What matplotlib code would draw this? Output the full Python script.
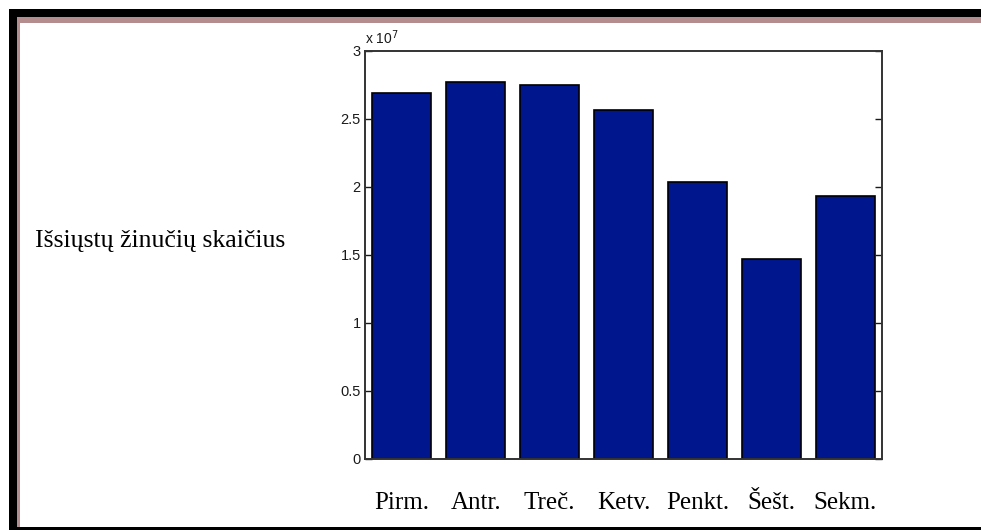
import matplotlib.pyplot as plt
from matplotlib.patches import Rectangle
from matplotlib.ticker import FuncFormatter, MultipleLocator

days = ['Pirm.', 'Antr.', 'Treč.', 'Ketv.', 'Penkt.', 'Šešt.', 'Sekm.']
messages = [26.9e6, 27.74e6, 27.48e6, 25.68e6, 20.39e6, 14.74e6, 19.36e6]
y_label = 'Išsiųstų žinučių skaičius'

W, H = 981, 530
fig = plt.figure(figsize=(W / 100, H / 100), dpi=100)
fig.patch.set_facecolor('white')


def frame_rect(x0, y0, x1, y1, color):
    # pixel box measured from the top-left corner
    fig.patches.append(Rectangle((x0 / W, 1 - y1 / H), (x1 - x0) / W, (y1 - y0) / H,
                                 transform=fig.transFigure, facecolor=color,
                                 edgecolor='none', zorder=0))


# black page frame with a thin rose inner line
frame_rect(9, 9, W, 17, 'black')
frame_rect(9, 9, 17, H, 'black')
frame_rect(9, 527, W, H, 'black')
frame_rect(17, 17, W, 23, '#b48e8e')
frame_rect(17, 17, 20, 527, '#b48e8e')

ax = fig.add_axes([365 / W, 1 - 459 / H, 517 / W, 408 / H])
x = range(1, len(days) + 1)
ax.bar(x, messages, width=0.8, color='#00168c', edgecolor='black', linewidth=1.2)

ax.set_xlim(0.5, len(days) + 0.5)
ax.set_ylim(0, 3e7)
ax.yaxis.set_major_locator(MultipleLocator(0.5e7))
ax.yaxis.set_major_formatter(FuncFormatter(lambda v, p: f'{v / 1e7:g}'))
ax.set_xticks(list(x))
ax.set_xticklabels(days, family='Liberation Serif', fontsize=18)
ax.tick_params(axis='x', length=0, pad=24)
ax.tick_params(axis='y', direction='in', length=5, width=1, right=True,
               labelsize=10.5, pad=3, colors='#1a1a1a')
for lbl in ax.get_yticklabels():
    lbl.set_family('Liberation Sans')
for s in ax.spines.values():
    s.set_linewidth(1.4)
    s.set_color('#333333')

ax.text(0, 1.01, r'x 10$^{7}$', transform=ax.transAxes, fontsize=10,
        family='Liberation Sans', va='bottom', ha='left', color='#1a1a1a')

fig.text(35 / W, 1 - 241 / H, y_label, family='Liberation Serif', fontsize=18.5,
         va='center', ha='left')

fig.savefig('out.png', dpi=100)
